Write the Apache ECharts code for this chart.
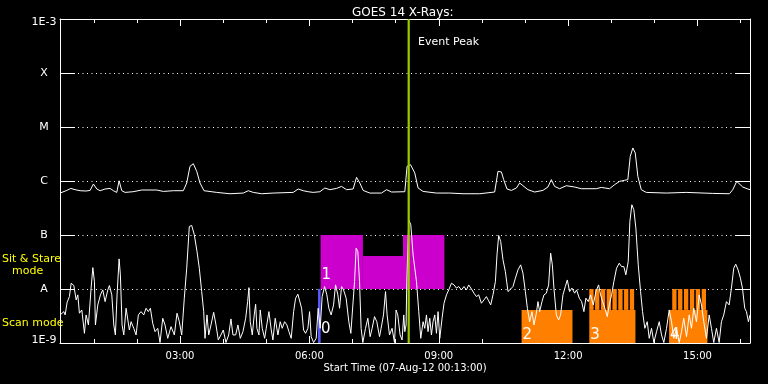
<!DOCTYPE html>
<html><head><meta charset="utf-8">
<script src="https://cdn.jsdelivr.net/npm/echarts@6/dist/echarts.min.js"></script>
<style>html,body{margin:0;padding:0;background:#000;}#c{width:768px;height:384px;}</style>
</head><body><div id="c"></div>
<script>
// ---- axis ranges / ticks (hours of 07-Aug-12) ----
const startHour = 13 / 60;
const endHour = 16 + 13 / 60;
const majorTickHours = [3, 6, 9, 12, 15];
const majorTickLabels = ['03:00', '06:00', '09:00', '12:00', '15:00'];
const minorTickHours = [1, 2, 3, 4, 5, 6, 7, 8, 9, 10, 11, 12, 13, 14, 15, 16];
const yTickFlux = [1e-9, 1e-8, 1e-7, 1e-6, 1e-5, 1e-4, 1e-3];
const yTickLabels = ['1E-9', 'A', 'B', 'C', 'M', 'X', '1E-3'];
const eventPeakHour = 8.30;

// ---- GOES 14 upper channel (W/m^2) ----
const upperTime = [0.22,0.375,0.468,0.568,0.683,0.822,0.915,0.991,1.070,1.147,
1.262,1.378,1.455,1.533,1.587,1.649,1.726,1.911,2.113,2.460,
2.613,2.845,3.076,3.155,3.231,3.308,3.387,3.463,3.556,3.850,
4.158,4.466,4.582,4.698,4.892,5.161,5.624,5.740,5.856,5.972,
6.088,6.243,6.358,6.474,6.630,6.745,6.861,7.014,7.093,7.169,
7.246,7.401,7.672,7.788,7.904,8.212,8.265,8.344,8.443,8.520,
8.636,8.946,9.254,9.562,9.949,10.296,10.373,10.412,10.452,10.505,
10.581,10.683,10.799,10.876,10.952,11.068,11.223,11.415,11.531,11.610,
11.686,11.802,11.957,12.150,12.305,12.652,12.768,12.960,13.076,13.192,
13.308,13.384,13.440,13.500,13.556,13.616,13.695,13.811,14.274,14.737,
15.353,15.740,15.817,15.909,16.049,16.164,16.217];
const upperFlux = [5.98e-7,6.70e-7,7.29e-7,6.90e-7,6.61e-7,6.52e-7,6.70e-7,8.79e-7,7.11e-7,6.61e-7,
7.11e-7,7.29e-7,6.61e-7,6.15e-7,1.01e-6,6.61e-7,6.15e-7,6.33e-7,6.81e-7,6.81e-7,
6.41e-7,6.61e-7,6.61e-7,9.18e-7,1.87e-6,2.09e-6,1.51e-6,9.18e-7,6.61e-7,6.15e-7,
5.81e-7,5.98e-7,6.61e-7,6.15e-7,5.81e-7,5.98e-7,6.15e-7,7.11e-7,6.61e-7,6.33e-7,
6.15e-7,6.33e-7,7.41e-7,6.90e-7,7.29e-7,7.94e-7,6.90e-7,7.11e-7,1.17e-6,9.18e-7,
6.70e-7,5.98e-7,5.98e-7,6.90e-7,6.25e-7,6.33e-7,1.87e-6,2.01e-6,1.41e-6,7.41e-7,
6.41e-7,5.98e-7,5.98e-7,5.81e-7,5.81e-7,6.25e-7,1.51e-6,1.57e-6,1.47e-6,1.06e-6,
7.11e-7,6.70e-7,7.41e-7,9.18e-7,8.18e-7,6.90e-7,6.25e-7,6.70e-7,7.74e-7,1.06e-6,
7.94e-7,7.20e-7,8.18e-7,7.74e-7,7.20e-7,7.20e-7,7.60e-7,7.20e-7,8.53e-7,9.84e-7,
1.03e-6,1.06e-6,2.86e-6,4.09e-6,3.31e-6,1.22e-6,6.90e-7,6.15e-7,5.98e-7,6.15e-7,
5.89e-7,5.81e-7,6.90e-7,9.84e-7,7.74e-7,7.11e-7,6.90e-7];

// ---- lower channel (W/m^2) ----
const lowerTime = [0.22,0.306,0.336,0.382,0.435,0.475,0.537,0.591,0.630,0.667,
0.723,0.783,0.822,0.876,0.938,0.978,1.015,1.038,1.093,1.154,
1.209,1.262,1.325,1.362,1.418,1.464,1.501,1.540,1.587,1.617,
1.656,1.696,1.749,1.788,1.825,1.865,1.927,1.981,2.034,2.096,
2.159,2.212,2.265,2.312,2.367,2.421,2.483,2.536,2.599,2.652,
2.715,2.791,2.868,2.930,2.984,3.039,3.099,3.155,3.215,3.271,
3.331,3.394,3.447,3.502,3.549,3.579,3.625,3.665,3.718,3.780,
3.834,3.887,3.949,4.003,4.065,4.128,4.181,4.227,4.290,4.343,
4.397,4.459,4.522,4.568,4.598,4.628,4.675,4.721,4.753,4.783,
4.830,4.860,4.906,4.962,4.999,5.061,5.115,5.154,5.207,5.270,
5.323,5.369,5.425,5.478,5.525,5.578,5.634,5.680,5.733,5.772,
5.819,5.865,5.911,5.965,6.004,6.041,6.097,6.157,6.203,6.250,
6.296,6.352,6.405,6.451,6.504,6.560,6.606,6.660,6.699,6.745,
6.792,6.852,6.914,6.961,6.991,7.047,7.084,7.123,7.162,7.199,
7.239,7.301,7.355,7.408,7.454,7.510,7.563,7.626,7.663,7.718,
7.765,7.802,7.857,7.917,7.973,8.010,8.049,8.103,8.149,8.188,
8.212,8.242,8.258,8.304,8.351,8.404,8.483,8.536,8.582,8.636,
8.675,8.714,8.751,8.791,8.830,8.867,8.907,8.946,8.983,9.023,
9.076,9.122,9.178,9.231,9.294,9.354,9.409,9.462,9.525,9.585,
9.641,9.694,9.757,9.817,9.873,9.926,9.988,10.048,10.104,10.157,
10.204,10.257,10.313,10.350,10.389,10.436,10.489,10.544,10.605,10.667,
10.721,10.776,10.836,10.899,10.952,11.008,11.054,11.107,11.161,11.207,
11.262,11.300,11.339,11.393,11.439,11.494,11.547,11.594,11.633,11.670,
11.726,11.779,11.825,11.879,11.934,11.980,12.034,12.087,12.150,12.196,
12.259,12.312,12.365,12.411,12.467,12.520,12.583,12.643,12.706,12.752,
12.798,12.851,12.907,12.953,13.007,13.060,13.122,13.185,13.238,13.291,
13.338,13.393,13.431,13.477,13.523,13.570,13.625,13.679,13.725,13.778,
13.834,13.880,13.933,13.987,14.049,14.112,14.165,14.218,14.281,14.343,
14.397,14.450,14.513,14.575,14.628,14.681,14.744,14.807,14.860,14.913,
14.976,15.038,15.091,15.145,15.207,15.270,15.323,15.376,15.439,15.501,
15.554,15.608,15.670,15.733,15.786,15.840,15.886,15.941,15.995,16.041,
16.095,16.134,16.180,16.217];
const lowerFlux = [3.31e-9,3.81e-9,3.31e-9,5.69e-9,7.23e-9,1.28e-8,1.16e-8,6.28e-9,7.78e-9,3.56e-9,
4.09e-9,1.51e-9,3.31e-9,2.16e-9,1.04e-8,2.49e-8,1.37e-8,2.16e-9,5.07e-9,7.78e-9,
9.62e-9,5.84e-9,9.62e-9,1.16e-8,7.78e-9,2.16e-9,1.41e-9,7.78e-9,3.61e-8,1.83e-8,
2.16e-9,1.41e-9,4.40e-9,4.71e-9,1.74e-9,2.48e-9,1.87e-9,1.41e-9,3.31e-9,3.81e-9,
3.31e-9,4.40e-9,3.81e-9,4.40e-9,2.32e-9,1.62e-9,1.87e-9,1.02e-9,2.87e-9,2.16e-9,
1.22e-9,2.01e-9,1.41e-9,3.56e-9,2.48e-9,1.41e-9,6.75e-9,2.43e-8,1.44e-7,1.50e-7,
1.01e-7,4.94e-8,2.43e-8,8.95e-9,3.81e-9,1.22e-9,3.31e-9,1.41e-9,2.16e-9,3.70e-9,
2.16e-9,1.14e-9,1.41e-9,1.74e-9,1.02e-9,1.41e-9,2.79e-9,1.41e-9,1.41e-9,2.16e-9,
1.22e-9,1.62e-9,2.87e-9,5.84e-9,1.06e-8,2.48e-9,1.41e-9,3.31e-9,5.22e-9,1.87e-9,
1.41e-9,4.09e-9,1.87e-9,1.22e-9,1.87e-9,3.81e-9,1.74e-9,1.14e-9,2.87e-9,1.41e-9,
2.48e-9,1.87e-9,2.48e-9,2.16e-9,1.62e-9,1.22e-9,3.81e-9,6.75e-9,8.01e-9,7.78e-9,
4.40e-9,1.74e-9,1.51e-9,1.87e-9,3.81e-9,1.31e-9,1.02e-9,1.22e-9,4.40e-9,1.87e-9,
7.23e-9,1.11e-8,7.78e-9,4.40e-9,3.31e-9,5.07e-9,1.19e-8,7.78e-9,4.40e-9,1.11e-8,
9.62e-9,6.75e-9,2.48e-9,1.51e-9,3.31e-9,1.37e-8,5.71e-8,4.94e-8,1.37e-8,1.87e-9,
1.02e-9,1.87e-9,2.87e-9,1.31e-9,1.87e-9,3.08e-9,2.48e-9,1.31e-9,1.87e-9,3.31e-9,
8.95e-9,3.31e-9,1.41e-9,1.87e-9,1.02e-9,4.09e-9,3.31e-9,1.41e-9,1.14e-9,3.31e-9,
1.62e-9,2.16e-9,1.37e-8,1.91e-7,1.55e-7,4.29e-8,1.37e-8,3.81e-9,1.22e-9,2.48e-9,
1.87e-9,3.31e-9,1.62e-9,2.87e-9,1.41e-9,2.48e-9,3.31e-9,1.51e-9,3.81e-9,1.22e-9,
2.87e-9,5.45e-9,7.78e-9,9.62e-9,1.28e-8,1.19e-8,1.04e-8,1.11e-8,9.62e-9,1.11e-8,
9.62e-9,1.19e-8,1.00e-8,8.36e-9,7.23e-9,7.78e-9,5.45e-9,6.28e-9,7.23e-9,6.02e-9,
5.07e-9,7.78e-9,1.37e-8,4.29e-8,9.79e-8,7.57e-8,3.47e-8,2.10e-8,8.95e-9,1.00e-8,
1.11e-8,1.58e-8,2.26e-8,2.80e-8,1.96e-8,8.95e-9,4.40e-9,2.48e-9,3.81e-9,2.16e-9,
3.56e-9,5.84e-9,3.81e-9,5.84e-9,7.78e-9,8.36e-9,1.19e-8,4.61e-8,2.80e-8,1.04e-8,
3.31e-9,2.67e-9,3.31e-9,7.78e-9,1.11e-8,1.47e-8,8.95e-9,1.04e-8,8.36e-9,9.62e-9,
6.75e-9,5.84e-9,3.81e-9,6.75e-9,5.84e-9,7.78e-9,5.07e-9,8.95e-9,1.19e-8,7.78e-9,
5.84e-9,4.40e-9,3.08e-9,5.07e-9,7.78e-9,1.37e-8,2.43e-8,3.01e-8,2.60e-8,2.60e-8,
1.83e-8,3.22e-8,1.78e-7,3.63e-7,2.94e-7,1.34e-7,2.80e-8,8.95e-9,3.81e-9,1.87e-9,
2.48e-9,1.22e-9,1.87e-9,1.02e-9,1.62e-9,2.48e-9,1.41e-9,1.02e-9,1.87e-9,4.09e-9,
2.48e-9,1.22e-9,1.87e-9,1.02e-9,1.62e-9,2.87e-9,1.31e-9,3.31e-9,1.87e-9,4.40e-9,
2.48e-9,7.78e-9,5.07e-9,2.48e-9,1.22e-9,3.31e-9,1.87e-9,1.02e-9,1.87e-9,1.02e-9,
2.48e-9,3.31e-9,5.84e-9,5.07e-9,1.04e-8,2.43e-8,2.88e-8,2.26e-8,1.58e-8,1.04e-8,
4.40e-9,3.81e-9,2.48e-9,3.31e-9];

// ---- observing rasters (id, mode, time span, flux span) ----
const rasterIds   = ['0', '1', '1', '1', '2', '3', '4'];
const rasterMode  = ['ref', 'sit', 'sit', 'sit', 'scan', 'scan', 'scan'];
const rasterStart = [6.20, 6.26, 7.24, 8.17, 10.92, 12.49, 14.34];
const rasterEnd   = [6.26, 7.24, 8.17, 9.13, 12.10, 13.56, 15.23];
const rasterLow   = [1e-9, 1e-8, 1e-8, 1e-8, 1e-9, 1e-9, 1e-9];
const rasterHigh  = [1e-8, 1e-7, 4.1e-8, 1e-7, 4.1e-9, 4.1e-9, 4.1e-9];
const stripeStart = [12.49, 12.624, 12.759, 12.893, 13.027, 13.162, 13.296, 13.43,
                     14.413, 14.549, 14.686, 14.823, 14.959, 15.096];
const stripeDuration = 0.10;
const stripeLow = 4.1e-9;
const stripeHigh = 1e-8;

const modeColor = { ref: '#5a5aff', sit: '#cc00cc', scan: '#ff8000' };
const FONT = '"DejaVu Sans", "Liberation Sans", sans-serif';
const WHITE = '#ffffff';

function yLabel(v) {
  const e = Math.round(Math.log10(v));
  for (let i = 0; i < yTickFlux.length; i++) {
    if (Math.round(Math.log10(yTickFlux[i])) === e) {
      if (i === yTickFlux.length - 1) return '{top|' + yTickLabels[i] + '}';
      if (i === 0) return '{bot|' + yTickLabels[i] + '}';
      return yTickLabels[i];
    }
  }
  return '';
}

function renderRaster(params, api) {
  const i = params.dataIndex;
  const p0 = api.coord([api.value(0), api.value(3)]);
  const p1 = api.coord([api.value(1), api.value(2)]);
  const children = [{
    type: 'rect',
    shape: { x: p0[0], y: p0[1], width: p1[0] - p0[0], height: p1[1] - p0[1] },
    style: { fill: modeColor[rasterMode[i]] }
  }];
  if (i === 0 || rasterIds[i] !== rasterIds[i - 1]) {
    const w = p1[0] - p0[0];
    const lx = w < 10 ? p1[0] + 0.5 : p0[0] + 1;
    const cy = ((p0[1] + p1[1]) / 2 + p1[1]) / 2;
    children.push({
      type: 'text', x: lx, y: cy,
      style: { text: rasterIds[i], fill: WHITE, font: '15px ' + FONT,
               align: 'left', verticalAlign: 'middle', textAlign: 'left', textVerticalAlign: 'middle' }
    });
  }
  return { type: 'group', children };
}

function renderStripe(params, api) {
  const p0 = api.coord([api.value(0), api.value(3)]);
  const p1 = api.coord([api.value(1), api.value(2)]);
  return {
    type: 'rect',
    shape: { x: p0[0], y: p0[1], width: p1[0] - p0[0], height: p1[1] - p0[1] },
    style: { fill: modeColor.scan }
  };
}

function renderEvent(params, api) {
  const top = api.coord([api.value(0), yTickFlux[yTickFlux.length - 1]]);
  const bot = api.coord([api.value(0), yTickFlux[0]]);
  return {
    type: 'group',
    children: [
      { type: 'rect', shape: { x: top[0] - 1, y: top[1], width: 2.2, height: bot[1] - top[1] },
        style: { fill: '#9acd00' } },
      { type: 'text', x: top[0] + 9.5, y: top[1] + 23,
        style: { text: 'Event Peak', fill: WHITE, font: '11px ' + FONT,
                 align: 'left', verticalAlign: 'middle', textAlign: 'left', textVerticalAlign: 'middle' } }
    ]
  };
}

const xBase = { type: 'value', min: startHour, max: endHour, splitLine: { show: false } };
const axisLineStyle = { show: true, lineStyle: { color: WHITE, width: 1 } };

const chart = echarts.init(document.getElementById('c'), null, { renderer: 'canvas' });
chart.setOption({
  backgroundColor: '#000000',
  animation: false,
  title: {
    text: 'GOES 14 X-Rays:', left: 347, top: 2,
    textStyle: { color: WHITE, fontSize: 12, fontWeight: 'normal', fontFamily: FONT }
  },
  grid: { left: 60, top: 19, width: 690, height: 324, containLabel: false },
  xAxis: [
    Object.assign({}, xBase, {
      position: 'bottom', axisLine: axisLineStyle,
      axisTick: { show: true, inside: true, length: 4, customValues: minorTickHours, lineStyle: { color: WHITE } },
      axisLabel: { show: false }
    }),
    Object.assign({}, xBase, {
      position: 'bottom', axisLine: { show: false },
      axisTick: { show: true, inside: true, length: 7, customValues: majorTickHours, lineStyle: { color: WHITE } },
      axisLabel: {
        show: true, customValues: majorTickHours, color: WHITE, fontSize: 10, fontFamily: FONT, margin: 8,
        formatter: v => majorTickLabels[majorTickHours.indexOf(Math.round(v))]
      }
    }),
    Object.assign({}, xBase, {
      position: 'top', axisLine: axisLineStyle,
      axisTick: { show: true, inside: true, length: 4, customValues: minorTickHours, lineStyle: { color: WHITE } },
      axisLabel: { show: false }
    }),
    Object.assign({}, xBase, {
      position: 'top', axisLine: { show: false },
      axisTick: { show: true, inside: true, length: 7, customValues: majorTickHours, lineStyle: { color: WHITE } },
      axisLabel: { show: false }
    })
  ],
  yAxis: [
    {
      type: 'log', logBase: 10, min: yTickFlux[0], max: yTickFlux[yTickFlux.length - 1],
      splitNumber: 6, position: 'left', axisLine: axisLineStyle,
      axisTick: { show: true, inside: true, length: 15, lineStyle: { color: WHITE } },
      minorTick: { show: false },
      axisLabel: {
        show: true, color: WHITE, fontSize: 11, fontFamily: FONT, align: 'center', margin: 16, formatter: yLabel,
        rich: {
          top: { color: WHITE, fontSize: 11, fontFamily: FONT, padding: [7, 0, 0, 0] },
          bot: { color: WHITE, fontSize: 11, fontFamily: FONT, padding: [0, 0, 5, 0] }
        }
      },
      splitLine: { show: true, lineStyle: { color: WHITE, width: 1, type: [1, 3.5] } }
    },
    {
      type: 'log', logBase: 10, min: yTickFlux[0], max: yTickFlux[yTickFlux.length - 1],
      splitNumber: 6, position: 'right', axisLine: axisLineStyle,
      axisTick: { show: true, inside: true, length: 14, lineStyle: { color: WHITE } },
      axisLabel: { show: false }, splitLine: { show: false }
    }
  ],
  graphic: [
    { type: 'text', x: 405, y: 368,
      style: { text: 'Start Time (07-Aug-12 00:13:00)', fill: WHITE, font: '10px ' + FONT,
               align: 'center', verticalAlign: 'middle', textAlign: 'center', textVerticalAlign: 'middle' } },
    { type: 'text', x: 2, y: 259,
      style: { text: 'Sit & Stare', fill: '#ffff00', font: '11px ' + FONT,
               align: 'left', verticalAlign: 'middle', textAlign: 'left', textVerticalAlign: 'middle' } },
    { type: 'text', x: 12, y: 271,
      style: { text: 'mode', fill: '#ffff00', font: '11px ' + FONT,
               align: 'left', verticalAlign: 'middle', textAlign: 'left', textVerticalAlign: 'middle' } },
    { type: 'text', x: 2, y: 323,
      style: { text: 'Scan mode', fill: '#ffff00', font: '11px ' + FONT,
               align: 'left', verticalAlign: 'middle', textAlign: 'left', textVerticalAlign: 'middle' } }
  ],
  series: [
    {
      type: 'custom', name: 'rasters', xAxisIndex: 0, yAxisIndex: 0, z: 1,
      renderItem: renderRaster, encode: { x: [0, 1], y: [2, 3] },
      data: rasterStart.map((s, i) => [s, rasterEnd[i], rasterLow[i], rasterHigh[i]])
    },
    {
      type: 'custom', name: 'scan steps', xAxisIndex: 0, yAxisIndex: 0, z: 1,
      renderItem: renderStripe, encode: { x: [0, 1], y: [2, 3] },
      data: stripeStart.map(s => [s, s + stripeDuration, stripeLow, stripeHigh])
    },
    {
      type: 'line', name: 'upper', xAxisIndex: 0, yAxisIndex: 0, z: 3,
      showSymbol: false, symbol: 'none', clip: true,
      lineStyle: { color: WHITE, width: 1 },
      data: upperTime.map((t, i) => [t, upperFlux[i]])
    },
    {
      type: 'line', name: 'lower', xAxisIndex: 0, yAxisIndex: 0, z: 3,
      showSymbol: false, symbol: 'none', clip: true,
      lineStyle: { color: WHITE, width: 1 },
      data: lowerTime.map((t, i) => [t, lowerFlux[i]])
    },
    {
      type: 'custom', name: 'event peak', xAxisIndex: 0, yAxisIndex: 0, z: 5, clip: false,
      renderItem: renderEvent, encode: { x: 0 },
      data: [[eventPeakHour]]
    }
  ]
});
</script>
</body></html>
